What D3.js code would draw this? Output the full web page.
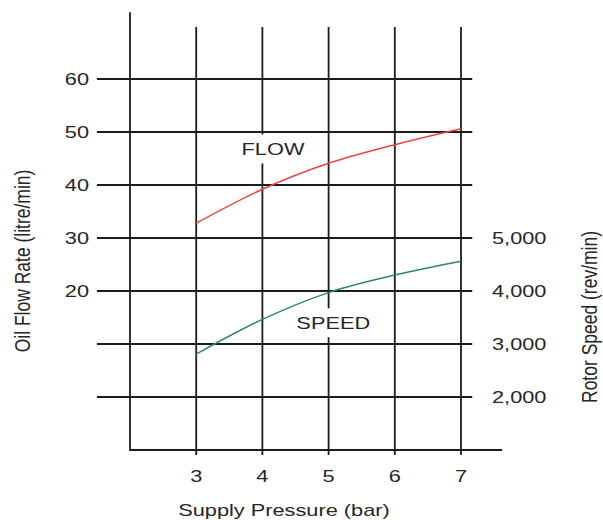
<!DOCTYPE html>
<html>
<head>
<meta charset="utf-8">
<script src="https://cdn.jsdelivr.net/npm/d3@7"></script>
<style>
  html, body { margin: 0; padding: 0; background: #fff; }
  svg text { font-family: "Liberation Sans", Arial, sans-serif; fill: #262626; }
</style>
</head>
<body>
<svg id="chart" width="603" height="520"></svg>
<script>
// data
const pressure = [3, 4, 5, 6, 7];
const flowRate = [32.8, 39.2, 44.1, 47.6, 50.6];      // litre/min
const rotorSpeed = [2810, 3465, 3970, 4300, 4560];    // rev/min

const pressureTicks = [3, 4, 5, 6, 7];
const flowGrid = [0, 10, 20, 30, 40, 50, 60];
const flowTicks = [20, 30, 40, 50, 60];
const speedTicks = [2000, 3000, 4000, 5000];

const svg = d3.select('#chart');
const sx = 1.28;   // the lettering in the picture is stretched sideways

// scales
const x = d3.scaleLinear().domain([2, 7]).range([130, 461]);
const yFlow = d3.scaleLinear().domain([-10, 60]).range([450, 79]);
const ySpeed = d3.scaleLinear().domain([1000, 8000]).range([450, 79]);

const gridTop = yFlow(69.8);
const axisTop = yFlow(72.6);
const bottom = yFlow(-10);

const grid = svg.append('g')
    .attr('stroke', '#1c1c1c')
    .attr('stroke-width', 1.8)
    .attr('fill', 'none');

// horizontal grid lines (they also act as the ticks on both sides)
grid.selectAll('.h')
    .data(flowGrid)
    .enter()
    .append('line')
    .attr('x1', x(1.5))
    .attr('x2', x(7.17))
    .attr('y1', d => yFlow(d))
    .attr('y2', d => yFlow(d));

// vertical grid lines, running past the base line as ticks
grid.selectAll('.v')
    .data(pressureTicks)
    .enter()
    .append('line')
    .attr('x1', d => x(d))
    .attr('x2', d => x(d))
    .attr('y1', gridTop)
    .attr('y2', bottom + 5);

// left axis and base line
grid.append('path')
    .attr('d', `M${x(2)},${axisTop}V${bottom}H${x(7.62)}`);

const stretched = (sel, px, py) =>
    sel.attr('transform', d => `translate(${px(d)},${py(d)}) scale(${sx},1)`);

// tick labels
svg.append('g').selectAll('text')
    .data(flowTicks)
    .enter()
    .append('text')
    .call(stretched, () => 89, d => yFlow(d))
    .attr('text-anchor', 'end')
    .attr('dy', '0.36em')
    .attr('font-size', 17)
    .text(d => d);

svg.append('g').selectAll('text')
    .data(speedTicks)
    .enter()
    .append('text')
    .call(stretched, () => 492, d => ySpeed(d))
    .attr('dy', '0.36em')
    .attr('font-size', 17)
    .text(d => d3.format(',')(d));

svg.append('g').selectAll('text')
    .data(pressureTicks)
    .enter()
    .append('text')
    .call(stretched, d => x(d), () => 482)
    .attr('text-anchor', 'middle')
    .attr('font-size', 17)
    .text(d => d);

// axis titles
svg.append('text')
    .attr('transform', `translate(284,516) scale(${sx},1)`)
    .attr('text-anchor', 'middle')
    .attr('font-size', 17)
    .text('Supply Pressure (bar)');

svg.append('text')
    .attr('transform', `translate(30,261) scale(${sx},1) rotate(-90)`)
    .attr('text-anchor', 'middle')
    .attr('font-size', 17.5)
    .text('Oil Flow Rate (litre/min)');

svg.append('text')
    .attr('transform', `translate(597,317) scale(${sx},1) rotate(-90)`)
    .attr('text-anchor', 'middle')
    .attr('font-size', 17.5)
    .text('Rotor Speed (rev/min)');

// curve labels sit on a white patch that cuts the grid line behind them
const curveLabel = (txt, px, py) => {
    const g = svg.append('g').attr('transform', `translate(${px},${py})`);
    const rect = g.append('rect').attr('fill', '#fff');
    const t = g.append('text')
        .attr('transform', `scale(${sx},1)`)
        .attr('text-anchor', 'middle')
        .attr('dy', '0.36em')
        .attr('font-size', 17)
        .text(txt);
    const b = t.node().getBBox();
    rect.attr('x', b.x * sx - 3)
        .attr('y', -14.5)
        .attr('width', b.width * sx + 6)
        .attr('height', 29);
};
curveLabel('FLOW', x(4.16), yFlow(46.8));
curveLabel('SPEED', x(5.07), ySpeed(3400));

// curves
const flowLine = d3.line()
    .curve(d3.curveMonotoneX)
    .x((d, i) => x(pressure[i]))
    .y(d => yFlow(d));

const speedLine = d3.line()
    .curve(d3.curveMonotoneX)
    .x((d, i) => x(pressure[i]))
    .y(d => ySpeed(d));

svg.append('path')
    .attr('d', flowLine(flowRate))
    .attr('fill', 'none')
    .attr('stroke', '#e8453f')
    .attr('stroke-width', 1.5);

svg.append('path')
    .attr('d', speedLine(rotorSpeed))
    .attr('fill', 'none')
    .attr('stroke', '#2e8b57')
    .attr('stroke-width', 1.5);
</script>
</body>
</html>
